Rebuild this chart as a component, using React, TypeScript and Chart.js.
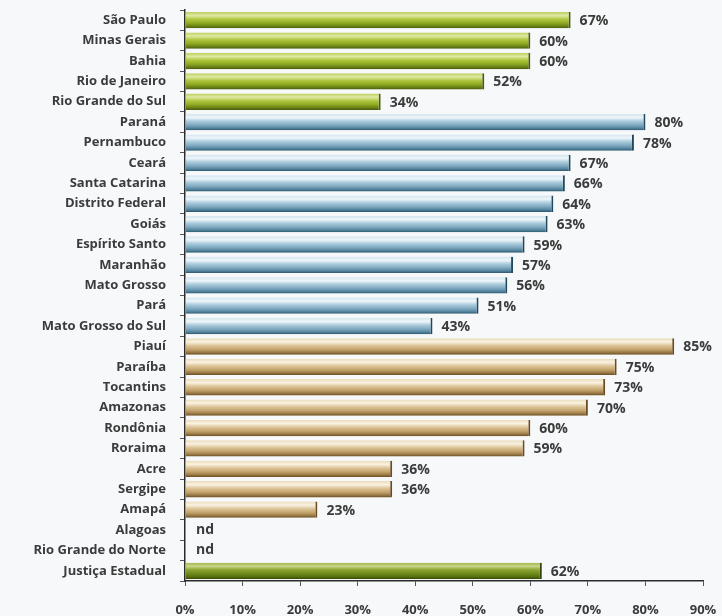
import React, { useEffect, useRef } from "react";
import { Chart, registerables } from "chart.js";

Chart.register(...registerables);

const categories = [
  "São Paulo", "Minas Gerais", "Bahia", "Rio de Janeiro", "Rio Grande do Sul",
  "Paraná", "Pernambuco", "Ceará", "Santa Catarina", "Distrito Federal", "Goiás",
  "Espírito Santo", "Maranhão", "Mato Grosso", "Pará", "Mato Grosso do Sul",
  "Piauí", "Paraíba", "Tocantins", "Amazonas", "Rondônia", "Roraima", "Acre",
  "Sergipe", "Amapá", "Alagoas", "Rio Grande do Norte", "Justiça Estadual",
];

const values: (number | null)[] = [
  67, 60, 60, 52, 34,
  80, 78, 67, 66, 64, 63, 59, 57, 56, 51, 43,
  85, 75, 73, 70, 60, 59, 36, 36, 23,
  null, null,
  62,
];

// group per category: 0 green (large), 1 blue (medium), 2 tan (small), 3 total
const groups = [
  0, 0, 0, 0, 0,
  1, 1, 1, 1, 1, 1, 1, 1, 1, 1, 1,
  2, 2, 2, 2, 2, 2, 2, 2, 2,
  2, 2,
  3,
];

const xTicks = [0, 10, 20, 30, 40, 50, 60, 70, 80, 90];

const palettes: string[][] = [
  ["#bccf5c", "#dfe9a4", "#afc63f", "#8fa923", "#6a8215", "#485a0c"],
  ["#d3e5ef", "#eef6fa", "#a9cadb", "#7fa9c0", "#56869f", "#2b566d"],
  ["#eadbb9", "#faf2e2", "#dcc497", "#c4a36c", "#9a7a46", "#6b4d22"],
  ["#9fb448", "#c9d88a", "#8aa22e", "#6e8a1c", "#56700f", "#3a4a08"],
];
const capColors = ["#4a5b0d", "#23475b", "#6a4c22", "#34420a"];

const FONT = "'Open Sans', Lato, sans-serif";
const FSIZE = 13;

export default function App() {
  const ref = useRef<HTMLCanvasElement>(null);
  useEffect(() => {
    document.body.style.margin = "0";
    document.body.style.background = "#f6f8fa";
    const canvas = ref.current!;
    const labelPlugin = {
      id: "valueLabels",
      afterDatasetsDraw(chart: any) {
        const ctx = chart.ctx;
        const meta = chart.getDatasetMeta(0);
        const xs = chart.scales.x;
        ctx.save();
        ctx.font = `bold ${FSIZE + 1}px ${FONT}`;
        ctx.fillStyle = "#3b3b3b";
        ctx.textBaseline = "middle";
        ctx.textAlign = "left";
        meta.data.forEach((el: any, i: number) => {
          const v = values[i];
          const y = chart.scales.y.getPixelForValue(i);
          if (v === null) {
            ctx.fillText("nd", xs.getPixelForValue(0) + 11, y);
          } else {
            ctx.fillText(`${v}%`, el.x + 9, y + 1);
          }
        });
        ctx.restore();
      },
    };
    const chart = new Chart(canvas, {
      type: "bar",
      data: {
        labels: categories,
        datasets: [
          {
            data: values as any,
            barPercentage: 0.8,
            categoryPercentage: 1,
            borderSkipped: "start",
            borderWidth: { top: 0, bottom: 0, left: 0, right: 2 } as any,
            borderColor: (c: any) => capColors[groups[c.dataIndex] ?? 0],
            backgroundColor: (c: any) => {
              const chart = c.chart;
              const ys = chart.scales && chart.scales.y;
              const gi = groups[c.dataIndex] ?? 0;
              const p = palettes[gi];
              if (!ys || c.dataIndex === undefined) return p[3];
              const yc = ys.getPixelForValue(c.dataIndex);
              const h = ((ys.bottom - ys.top) / categories.length) * 0.8;
              if (!isFinite(yc) || !isFinite(h) || h <= 0) return p[3];
              const g = chart.ctx.createLinearGradient(0, yc - h / 2, 0, yc + h / 2);
              g.addColorStop(0, p[0]);
              g.addColorStop(0.22, p[1]);
              g.addColorStop(0.45, p[2]);
              g.addColorStop(0.68, p[3]);
              g.addColorStop(0.86, p[4]);
              g.addColorStop(1, p[5]);
              return g;
            },
          },
        ],
      },
      options: {
        indexAxis: "y",
        animation: false,
        responsive: false,
        maintainAspectRatio: false,
        layout: { padding: { top: 0, right: 0, bottom: 0, left: 0 } },
        plugins: { legend: { display: false }, tooltip: { enabled: false } },
        scales: {
          x: {
            min: 0,
            max: 90,
            afterFit: (s: any) => {
              s.height = 35;
              s.paddingLeft = 0;
              s.paddingRight = 19;
            },
            afterBuildTicks: (s: any) => { s.ticks = xTicks.map((v) => ({ value: v })); },
            border: { display: true, color: "#2b2b2b", width: 1.5 },
            grid: { drawOnChartArea: false, drawTicks: true, tickLength: 5, color: "#555" },
            ticks: {
              padding: 16,
              color: "#3b3b3b",
              font: { family: FONT, size: FSIZE, weight: "bold" },
              callback: (v: any) => `${v}%`,
            },
          },
          y: {
            afterFit: (s: any) => {
              s.width = 185;
              s.paddingTop = 10;
              s.paddingBottom = 0;
            },
            border: { display: true, color: "#2b2b2b", width: 1.5 },
            grid: { drawOnChartArea: false, drawTicks: true, tickLength: 5, color: "#555", offset: true },
            ticks: {
              padding: 14,
              autoSkip: false,
              color: "#3b3b3b",
              font: { family: FONT, size: FSIZE, weight: "bold" },
            },
          },
        },
      } as any,
      plugins: [labelPlugin],
    });
    chart.update();
    return () => chart.destroy();
  }, []);
  return (
    <div style={{ width: 722, height: 616, background: "#f6f8fa" }}>
      <canvas ref={ref} width={722} height={616} style={{ display: "block" }} />
    </div>
  );
}
